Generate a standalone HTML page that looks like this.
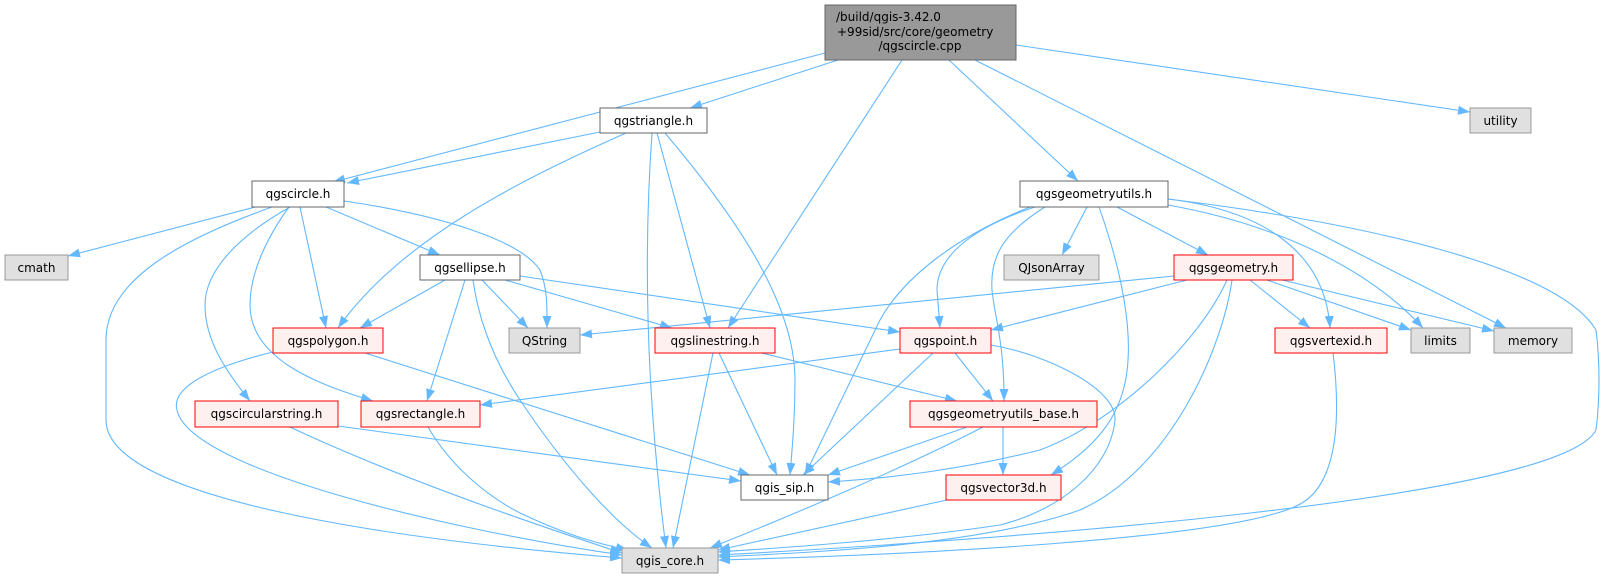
<!DOCTYPE html>
<html><head><meta charset="utf-8"><style>
html,body{margin:0;padding:0;background:#fff;}
svg{display:block;}
text{font-family:"DejaVu Sans","Liberation Sans",sans-serif;font-size:12px;fill:#000;}
.e{fill:none;stroke:#63b8ff;stroke-width:1.1;marker-end:url(#a);}
.w{fill:#fff;stroke:#666;stroke-width:1;}
.r{fill:#fff0f0;stroke:#ff0000;stroke-width:1;}
.g{fill:#e0e0e0;stroke:#999;stroke-width:1;}
</style></head><body>
<svg width="1611" height="579" viewBox="0 0 1611 579">
<defs><marker id="a" markerUnits="userSpaceOnUse" markerWidth="13" markerHeight="10" refX="12" refY="4.5" orient="auto"><path d="M0,0 L12,4.5 L0,9 z" fill="#63b8ff"/></marker></defs>

<path class="e" d="M825,53 L333,182"/>
<path class="e" d="M838,60 L690,108"/>
<path class="e" d="M600,132 L347,183"/>
<path class="e" d="M902,60 L728,328"/>
<path class="e" d="M949,60 L1078,181"/>
<path class="e" d="M975,60 L1506,328"/>
<path class="e" d="M1016,45 L1470,112"/>
<path class="e" d="M626,133 C520,180 400,240 338,328"/>
<path class="e" d="M652,133 Q638,330 666,548"/>
<path class="e" d="M657,133 L710,328"/>
<path class="e" d="M665,133 C730,210 795,300 795,380 C795,420 792,450 790,475"/>
<path class="e" d="M255,207 L68,256"/>
<path class="e" d="M272,207 C180,240 106,280 106,340 L106,420 C106,500 400,540 622,558"/>
<path class="e" d="M290,207 C240,235 205,270 205,305 C205,340 225,370 250,401"/>
<path class="e" d="M289,207 C265,240 250,275 250,305 C250,360 320,385 373,401"/>
<path class="e" d="M300,207 L326,328"/>
<path class="e" d="M326,207 L440,255"/>
<path class="e" d="M344,201 C440,215 520,240 540,270 C548,290 547,310 547,328"/>
<path class="e" d="M445,280 L360,328"/>
<path class="e" d="M465,280 L427,401"/>
<path class="e" d="M473,280 C480,330 500,370 520,400 C560,460 610,520 652,548"/>
<path class="e" d="M482,280 L528,328"/>
<path class="e" d="M505,280 L672,328"/>
<path class="e" d="M520,276 L900,332"/>
<path class="e" d="M1174,276 L580,335"/>
<path class="e" d="M273,352 C220,365 170,385 177,410 C190,470 450,530 622,555"/>
<path class="e" d="M365,353 L750,475"/>
<path class="e" d="M290,427 C360,460 460,500 622,553"/>
<path class="e" d="M338,426 L741,481"/>
<path class="e" d="M428,427 C450,465 485,495 520,513 C560,532 590,542 628,550"/>
<path class="e" d="M713,353 L673,548"/>
<path class="e" d="M719,353 L777,475"/>
<path class="e" d="M762,353 L957,401"/>
<path class="e" d="M900,349 L480,405"/>
<path class="e" d="M933,353 L803,475"/>
<path class="e" d="M955,353 L993,401"/>
<path class="e" d="M991,345 C1050,355 1117,390 1115,420 C1110,470 1060,510 1000,525 C900,540 780,548 718,552"/>
<path class="e" d="M967,427 L828,475"/>
<path class="e" d="M983,427 C900,470 780,520 710,548"/>
<path class="e" d="M1003,427 L1003,475"/>
<path class="e" d="M947,500 L718,550"/>
<path class="e" d="M1227,280 C1200,340 1120,420 1040,450 C960,470 890,478 828,482"/>
<path class="e" d="M1232,280 C1222,350 1170,470 1080,510 C980,545 820,552 718,557"/>
<path class="e" d="M1187,280 L991,330"/>
<path class="e" d="M1250,280 L1310,328"/>
<path class="e" d="M1267,280 L1411,330"/>
<path class="e" d="M1282,280 L1494,331"/>
<path class="e" d="M1333,353 C1340,410 1340,480 1302,503 C1240,540 900,555 718,560"/>
<path class="e" d="M1168,199 C1380,225 1560,270 1596,330 C1600,360 1600,400 1596,430 C1560,500 1000,540 718,555"/>
<path class="e" d="M1168,199 C1260,210 1325,250 1330,328"/>
<path class="e" d="M1168,205 C1280,225 1370,270 1423,328"/>
<path class="e" d="M1087,207 L1062,255"/>
<path class="e" d="M1117,207 L1208,255"/>
<path class="e" d="M1099,207 C1125,280 1130,330 1128,360 C1125,420 1090,450 1051,475"/>
<path class="e" d="M1030,207 C960,235 905,275 880,320 L805,475"/>
<path class="e" d="M1035,207 C965,230 937,260 937,290 L940,328"/>
<path class="e" d="M1045,207 C1000,235 990,260 992,290 C995,320 1004,340 1004,401"/>

<rect x="825" y="5" width="191" height="55" fill="#999" stroke="#666"/>
<text x="836" y="21">/build/qgis-3.42.0</text>
<text x="837" y="36">+99sid/src/core/geometry</text>
<text x="920" y="50" text-anchor="middle">/qgscircle.cpp</text>

<rect class="w" x="600" y="108" width="107" height="25"/><text x="653.5" y="125" text-anchor="middle">qgstriangle.h</text>
<rect class="g" x="1470" y="108" width="61" height="25"/><text x="1500.5" y="125" text-anchor="middle">utility</text>
<rect class="w" x="252" y="181" width="92" height="26"/><text x="298" y="198" text-anchor="middle">qgscircle.h</text>
<rect class="w" x="1020" y="181" width="148" height="26"/><text x="1094" y="198" text-anchor="middle">qgsgeometryutils.h</text>
<rect class="g" x="5" y="255" width="63" height="25"/><text x="36.5" y="272" text-anchor="middle">cmath</text>
<rect class="w" x="420" y="255" width="100" height="25"/><text x="470" y="272" text-anchor="middle">qgsellipse.h</text>
<rect class="g" x="1004" y="255" width="95" height="25"/><text x="1051.5" y="272" text-anchor="middle">QJsonArray</text>
<rect class="r" x="1174" y="255" width="119" height="25"/><text x="1233.5" y="272" text-anchor="middle">qgsgeometry.h</text>
<rect class="r" x="273" y="328" width="110" height="25"/><text x="328" y="345" text-anchor="middle">qgspolygon.h</text>
<rect class="g" x="509" y="328" width="71" height="25"/><text x="544.5" y="345" text-anchor="middle">QString</text>
<rect class="r" x="655" y="328" width="120" height="25"/><text x="715" y="345" text-anchor="middle">qgslinestring.h</text>
<rect class="r" x="900" y="328" width="91" height="25"/><text x="945.5" y="345" text-anchor="middle">qgspoint.h</text>
<rect class="r" x="1275" y="328" width="112" height="25"/><text x="1331" y="345" text-anchor="middle">qgsvertexid.h</text>
<rect class="g" x="1411" y="328" width="59" height="25"/><text x="1440.5" y="345" text-anchor="middle">limits</text>
<rect class="g" x="1494" y="328" width="78" height="25"/><text x="1533" y="345" text-anchor="middle">memory</text>
<rect class="r" x="195" y="401" width="143" height="26"/><text x="266.5" y="418" text-anchor="middle">qgscircularstring.h</text>
<rect class="r" x="361" y="401" width="119" height="26"/><text x="420.5" y="418" text-anchor="middle">qgsrectangle.h</text>
<rect class="r" x="910" y="401" width="187" height="26"/><text x="1003.5" y="418" text-anchor="middle">qgsgeometryutils_base.h</text>
<rect class="w" x="741" y="475" width="87" height="25"/><text x="784.5" y="492" text-anchor="middle">qgis_sip.h</text>
<rect class="r" x="946" y="475" width="115" height="25"/><text x="1003.5" y="492" text-anchor="middle">qgsvector3d.h</text>
<rect class="g" x="622" y="548" width="96" height="25"/><text x="670" y="565" text-anchor="middle">qgis_core.h</text>
</svg>
</body></html>
